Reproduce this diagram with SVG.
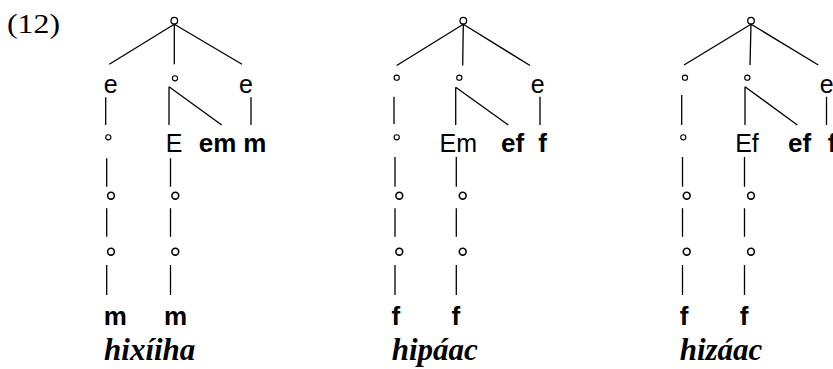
<svg xmlns="http://www.w3.org/2000/svg" width="833" height="369" viewBox="0 0 833 369">
<style>
.bg{fill:#fff}
.ln{stroke:#000;stroke-width:1.3;fill:none}
.c{fill:none;stroke:#000;stroke-width:1.3}
.cs{fill:none;stroke:#000;stroke-width:1.1}
.cb{fill:none;stroke:#000;stroke-width:1.6}
text{fill:#000;text-anchor:middle}
.r{font-family:"Liberation Sans",Arial,sans-serif;font-size:25px}
.b{font-family:"Liberation Sans",Arial,sans-serif;font-size:26px;font-weight:bold}
.it{font-family:"Liberation Serif","Times New Roman",serif;font-size:31px;font-weight:bold;font-style:italic}
.num{font-family:"Liberation Serif","Times New Roman",serif;font-size:27px;text-anchor:start}
</style>
<rect class="bg" x="0" y="0" width="833" height="369"/>
<text class="num" x="7" y="33" textLength="53" lengthAdjust="spacingAndGlyphs">(12)</text>

<g id="connectors">
  <!-- tree 1 -->
  <path class="ln" d="M174.3,24.2 L109.3,64.3 M174.3,24.2 L174.3,64.3 M174.3,24.2 L242,64.3"/>
  <path class="ln" d="M105.7,97.3 V125 M169,86.7 V125 M169,86.7 L221.7,125 M251,97.3 V125"/>
  <path class="ln" d="M106.7,158.3 V186.7 M106.7,208.3 V236.7 M106.7,265 V295"/>
  <path class="ln" d="M170.5,158.3 V186.7 M170.5,208.3 V236.7 M170.5,265 V295"/>
  <!-- tree 2 -->
  <path class="ln" d="M463.3,24.2 L396.7,65.5 M463.3,24.2 L462.7,65.5 M463.3,24.2 L530,65.5"/>
  <path class="ln" d="M394,96.7 V124 M455.7,87.3 V125 M455.7,87.3 L508.3,125 M540,96.7 V125"/>
  <path class="ln" d="M395,157 V186.7 M395,208.3 V236.7 M395,265 V295"/>
  <path class="ln" d="M456.3,157 V186.7 M456.3,208.3 V236.7 M456.3,265 V295"/>
  <!-- tree 3 -->
  <path class="ln" d="M751,24.2 L684,65 M751,24.2 L750,65 M751,24.2 L818.3,65"/>
  <path class="ln" d="M681.7,95 V125 M745,86.7 V125 M745,86.7 L797.3,125 M826.5,96.7 V125"/>
  <path class="ln" d="M682.5,157 V186.7 M682.5,208.3 V236.7 M682.5,265 V295"/>
  <path class="ln" d="M744.5,157 V186.7 M744.5,208.3 V236.7 M744.5,265 V295"/>
</g>

<!-- tree 1 -->
<g id="t1-root"><circle class="c" cx="174.3" cy="20.7" r="3.3"/></g>
<g id="t1-l2"><text class="r" x="110.7" y="93.3">e</text></g>
<g id="t1-m2"><circle class="cs" cx="175" cy="78.3" r="2.6"/></g>
<g id="t1-r2"><text class="r" x="246" y="93.3">e</text></g>
<g id="t1-l3"><circle class="cs" cx="108.3" cy="137.3" r="2.6"/></g>
<g id="t1-m3"><text class="r" x="174" y="152">E</text></g>
<g id="t1-em"><text class="b" x="217.5" y="152">em</text></g>
<g id="t1-m"><text class="b" x="254.8" y="152">m</text></g>
<g id="t1-l4"><circle class="cb" cx="111" cy="195.7" r="3.4"/></g>
<g id="t1-m4"><circle class="cb" cx="175.3" cy="195.7" r="3.4"/></g>
<g id="t1-l5"><circle class="cb" cx="111" cy="251.7" r="3.4"/></g>
<g id="t1-m5"><circle class="cb" cx="175.3" cy="251.7" r="3.4"/></g>
<g id="t1-l6"><text class="b" x="115.2" y="325">m</text></g>
<g id="t1-m6"><text class="b" x="175.5" y="325">m</text></g>
<g id="t1-word"><text class="it" x="149.7" y="360">hixíiha</text></g>

<!-- tree 2 -->
<g id="t2-root"><circle class="c" cx="463.3" cy="20.7" r="3.3"/></g>
<g id="t2-l2"><circle class="cs" cx="396.7" cy="77.7" r="2.6"/></g>
<g id="t2-m2"><circle class="cs" cx="459.3" cy="77.7" r="2.6"/></g>
<g id="t2-r2"><text class="r" x="537.7" y="93.3">e</text></g>
<g id="t2-l3"><circle class="cs" cx="396.7" cy="137.3" r="2.6"/></g>
<g id="t2-m3"><text class="r" x="458.3" y="152">Em</text></g>
<g id="t2-ef"><text class="b" x="512.5" y="152">ef</text></g>
<g id="t2-f"><text class="b" x="542.5" y="152">f</text></g>
<g id="t2-l4"><circle class="cb" cx="399.3" cy="195.7" r="3.4"/></g>
<g id="t2-m4"><circle class="cb" cx="462.7" cy="195.7" r="3.4"/></g>
<g id="t2-l5"><circle class="cb" cx="399.3" cy="251.7" r="3.4"/></g>
<g id="t2-m5"><circle class="cb" cx="462.7" cy="251.7" r="3.4"/></g>
<g id="t2-l6"><text class="b" x="395.8" y="325">f</text></g>
<g id="t2-m6"><text class="b" x="455.8" y="325">f</text></g>
<g id="t2-word"><text class="it" x="434.8" y="360">hipáac</text></g>

<!-- tree 3 -->
<g id="t3-root"><circle class="c" cx="751" cy="20.7" r="3.3"/></g>
<g id="t3-l2"><circle class="cs" cx="685" cy="77.7" r="2.6"/></g>
<g id="t3-m2"><circle class="cs" cx="747.3" cy="77.7" r="2.6"/></g>
<g id="t3-r2"><text class="r" x="826.7" y="93.3">e</text></g>
<g id="t3-l3"><circle class="cs" cx="683.3" cy="137.3" r="2.6"/></g>
<g id="t3-m3"><text class="r" x="747" y="152">Ef</text></g>
<g id="t3-ef"><text class="b" x="799.5" y="152">ef</text></g>
<g id="t3-f"><text class="b" x="832" y="152">f</text></g>
<g id="t3-l4"><circle class="cb" cx="686.7" cy="195.7" r="3.4"/></g>
<g id="t3-m4"><circle class="cb" cx="751" cy="195.7" r="3.4"/></g>
<g id="t3-l5"><circle class="cb" cx="686.7" cy="251.7" r="3.4"/></g>
<g id="t3-m5"><circle class="cb" cx="751" cy="251.7" r="3.4"/></g>
<g id="t3-l6"><text class="b" x="684.2" y="325">f</text></g>
<g id="t3-m6"><text class="b" x="744.2" y="325">f</text></g>
<g id="t3-word"><text class="it" x="721" y="360">hizáac</text></g>
</svg>
